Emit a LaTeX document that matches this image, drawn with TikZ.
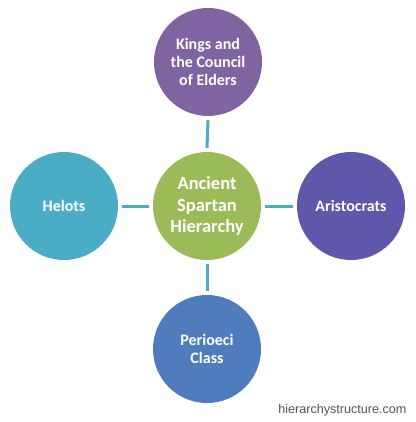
\documentclass[tikz,border=0pt]{standalone}
\usepackage{fontspec}
\setmainfont{Carlito}
\newfontfamily\wmfont{Liberation Sans}
\definecolor{cpurple}{HTML}{8064A2}
\definecolor{cgreen}{HTML}{9BBB59}
\definecolor{cteal}{HTML}{4BACC6}
\definecolor{cindigo}{HTML}{5F57AA}
\definecolor{cblue}{HTML}{4F7CBD}
\definecolor{cline}{HTML}{4BACC6}
\definecolor{cwm}{HTML}{555555}
\tikzset{
  bubble/.style={circle, minimum size=108pt, inner sep=0pt, text=white, font=\bfseries\fontsize{16}{18}\selectfont, align=center},
  hub/.style={bubble, font=\bfseries\fontsize{18.5}{21.7}\selectfont},
  link/.style={draw=cline, line width=3pt}
}
\begin{document}
\begin{tikzpicture}[x=1pt,y=-1pt]
\useasboundingbox (0,0) rectangle (415,422);
\fill[white] (0,0) rectangle (415,422);
\node[hub, fill=cgreen] (c) at (207,206) {Ancient\\Spartan\\Hierarchy};
\node[bubble, fill=cpurple] (t) at (208,62) {Kings and\\the Council\\of Elders};
\node[bubble, fill=cteal] (l) at (64,206) {Helots};
\node[bubble, fill=cindigo] (r) at (351,206) {Aristocrats};
\node[bubble, fill=cblue] (b) at (207,349) {Perioeci\\Class};
\draw[link] ([yshift=-4pt]t.south) -- ([yshift=4pt]c.north);
\draw[link] ([yshift=4pt]b.north) -- ([yshift=-4pt]c.south);
\draw[link] ([xshift=4pt]l.east) -- ([xshift=-4pt]c.west);
\draw[link] ([xshift=-4pt]r.west) -- ([xshift=4pt]c.east);
\node[font=\wmfont\fontsize{12.6}{14}\selectfont, text=cwm, anchor=east] (wm) at (410,410) {hierarchystructure.com};
\end{tikzpicture}
\end{document}
